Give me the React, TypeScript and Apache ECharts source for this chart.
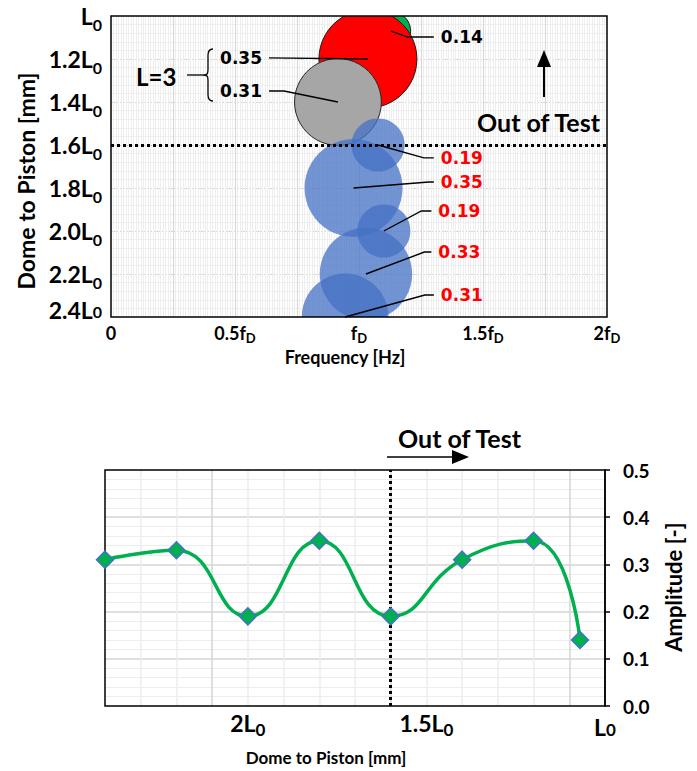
import React, { useEffect, useRef } from "react";
import * as echarts from "echarts";

// ---- data ----
const distances = [1.07, 1.2, 1.4, 1.6, 1.8, 2.0, 2.2, 2.4]; // Dome to Piston (x L0)
const frequencies = [1.129, 1.036, 0.915, 1.077, 0.978, 1.1, 1.028, 0.944]; // x fD
const amplitudes = [0.14, 0.35, 0.31, 0.19, 0.35, 0.19, 0.33, 0.31];
const bubbleKinds = ["out", "L3a", "L3b", "test", "test", "test", "test", "test"];

const freqTickValues = [0, 0.5, 1, 1.5, 2];
const freqTickLabels = ["0", "0.5f", "f", "1.5f", "2f"];
const distTickValues = [1, 1.2, 1.4, 1.6, 1.8, 2.0, 2.2, 2.4];
const distTickLabels = ["L", "1.2L", "1.4L", "1.6L", "1.8L", "2.0L", "2.2L", "2.4L"];
const bottomTickValues = [2, 1.5, 1];
const bottomTickLabels = ["2L", "1.5L", "L"];
const outOfTestLimit = 1.6;

// ---- annotation layout (label anchors in data units, leader elbow in px) ----
const labelAnchorX = [1.33, 0.609, 0.609, 1.33, 1.33, 1.32, 1.32, 1.33];
const labelAnchorY = [1.098, 1.195, 1.349, 1.66, 1.772, 1.907, 2.098, 2.298];
const labelSide = ["right", "left", "left", "right", "right", "right", "right", "right"];
const labelElbow = [26, 0, 15, 10, 5, 10, 7, 9];

const R_PER_AMP = 140;
const FONT = "Lato";
const NUM_FONT = "DejaVu Sans";

const BUBBLE_STYLE: Record<string, any> = {
  out: { fill: "#00B050", stroke: "#1a1a1a", lineWidth: 1 },
  L3a: { fill: "#FF0000", stroke: "#1a1a1a", lineWidth: 1 },
  L3b: { fill: "#A6A6A6", stroke: "#262626", lineWidth: 1 },
  test: { fill: "rgba(68,114,196,0.75)", stroke: "none", lineWidth: 0 },
};

const BRACE_D =
  "M10,0 C6,0 5,2 5,6 L5,20 C5,24 4,25 0,25 C4,25 5,26 5,30 L5,44 C5,48 6,50 10,50";
echarts.graphic.registerShape("brace", echarts.graphic.extendPath(BRACE_D, {}) as any);

const near = (a: number, b: number) => Math.abs(a - b) < 1e-6;

// rich styles: main text + subscript shifted down by `offset` px
const subRich = (main: number, sub: number, offset: number) => {
  const L = 2 * offset + sub;
  const base = { fontWeight: "bold", fontFamily: FONT, color: "#000" };
  return {
    m: { ...base, fontSize: main, lineHeight: L, verticalAlign: "middle" },
    s: { ...base, fontSize: sub, lineHeight: sub, verticalAlign: "bottom" },
    lo: { ...base, fontSize: main, lineHeight: L, verticalAlign: "middle", padding: [8, 0, 0, 0] },
    ls: { ...base, fontSize: sub, lineHeight: sub, verticalAlign: "bottom" },
    hi: { ...base, fontSize: main, lineHeight: L, verticalAlign: "middle", padding: [0, 0, 14, 0] },
    hs: { ...base, fontSize: sub, lineHeight: sub, verticalAlign: "bottom", padding: [0, 0, 14, 0] },
  };
};

export default function App() {
  const ref = useRef<HTMLDivElement>(null);
  useEffect(() => {
    if (!ref.current) return;
    const chart = echarts.init(ref.current, undefined, { renderer: "svg" });

    const txt = (x: number, y: number, text: string, size: number, extra: any = {}) => ({
      type: "text", x, y, z: 50, ...extra,
      style: { text, fill: "#000", fontSize: size, fontWeight: "bold", fontFamily: FONT, align: extra.align || "left", verticalAlign: "middle" },
    });

    const option: any = {
      animation: false,
      textStyle: { fontFamily: FONT },
      grid: [
        { left: 111, top: 16, width: 496, height: 301, show: true, borderColor: "#000", borderWidth: 1.5, backgroundColor: "transparent", z: 3 },
        { left: 105, top: 470, width: 500, height: 236, show: true, borderColor: "#000", borderWidth: 1.5, backgroundColor: "transparent", z: 3 },
      ],
      xAxis: [
        {
          gridIndex: 0, type: "value", min: 0, max: 2, interval: 0.25,
          axisLine: { show: false }, axisTick: { show: false },
          axisLabel: {
            margin: 4, showMinLabel: true, showMaxLabel: true,
            formatter: (v: number) => {
              const i = freqTickValues.findIndex((t) => near(t, v));
              if (i < 0) return "";
              return i === 0 ? `{m|${freqTickLabels[i]}}` : `{m|${freqTickLabels[i]}}{s|D}`;
            },
            rich: subRich(18, 13, 5),
          },
          splitLine: { show: true, showMinLine: false, showMaxLine: false, lineStyle: { color: "#d9d9d9", width: 1.2 } },
          minorTick: { show: false, splitNumber: 25 },
          minorSplitLine: { show: true, lineStyle: { color: "#eeeeee", width: 1 } },
        },
        {
          gridIndex: 1, type: "value", min: 1, max: 2.4, inverse: true, interval: 0.1,
          axisLine: { show: false }, axisTick: { show: false },
          axisLabel: {
            margin: 1, showMinLabel: true, showMaxLabel: true,
            formatter: (v: number) => {
              const i = bottomTickValues.findIndex((t) => near(t, v));
              if (i < 0) return "";
              return near(v, 1) ? `{lo|${bottomTickLabels[i]}}{ls|0}` : `{m|${bottomTickLabels[i]}}{s|0}`;
            },
            rich: subRich(23, 17, 7),
          },
          splitLine: {
            show: true, showMinLine: false, showMaxLine: false,
            lineStyle: { color: ["#d4d4d4", "#ededed", "#ededed", "#ededed", "#ededed"], width: 1.5 },
          },
        },
      ],
      yAxis: [
        {
          gridIndex: 0, type: "value", min: 1, max: 2.4, inverse: true, interval: 0.2,
          axisLine: { show: false }, axisTick: { show: false },
          axisLabel: {
            margin: 9, showMinLabel: true, showMaxLabel: true,
            formatter: (v: number) => {
              const i = distTickValues.findIndex((t) => near(t, v));
              if (i < 0) return "";
              return near(v, 2.4) ? `{hi|${distTickLabels[i]}}{hs|0}` : `{m|${distTickLabels[i]}}{s|0}`;
            },
            rich: subRich(23, 16, 8),
          },
          splitLine: { show: true, showMinLine: false, showMaxLine: false, lineStyle: { color: "#d4d4d4", width: 1.2, type: [2, 1] } },
          minorTick: { show: false, splitNumber: 5 },
          minorSplitLine: { show: true, lineStyle: { color: "#eeeeee", width: 1 } },
        },
        {
          gridIndex: 1, type: "value", position: "right", min: 0, max: 0.5, interval: 0.1,
          axisLine: { show: true, lineStyle: { color: "#000", width: 1.5 } },
          axisTick: { show: true, inside: false, length: 5, lineStyle: { color: "#000", width: 1.5 } },
          axisLabel: { margin: 18, color: "#000", fontSize: 19, fontWeight: "bold", fontFamily: FONT, formatter: (v: number) => v.toFixed(1) },
          splitLine: { show: true, showMinLine: false, showMaxLine: false, lineStyle: { color: "#d4d4d4", width: 1.5 } },
          minorTick: { show: false, splitNumber: 5 },
          minorSplitLine: { show: true, lineStyle: { color: "#ededed", width: 1 } },
        },
      ],
      series: [
        {
          type: "custom", name: "bubbles", xAxisIndex: 0, yAxisIndex: 0, clip: true, z: 2,
          data: distances.map((d, i) => [frequencies[i], d, amplitudes[i], i]),
          renderItem: (params: any, api: any) => {
            const i = api.value(3);
            const c = api.coord([api.value(0), api.value(1)]);
            return {
              type: "circle",
              shape: { cx: c[0], cy: c[1], r: api.value(2) * R_PER_AMP },
              style: { ...BUBBLE_STYLE[bubbleKinds[i]] },
            };
          },
        },
        {
          type: "custom", name: "labels", xAxisIndex: 0, yAxisIndex: 0, clip: false, z: 6,
          data: distances.map((d, i) => [frequencies[i], d, amplitudes[i], i]),
          renderItem: (params: any, api: any) => {
            const i = api.value(3);
            const c = api.coord([api.value(0), api.value(1)]);
            const a = api.coord([labelAnchorX[i], labelAnchorY[i]]);
            const dir = labelSide[i] === "right" ? 1 : -1;
            const gap = 7;
            const end = [a[0] - dir * gap, a[1]];
            const elbow = [a[0] - dir * (gap + labelElbow[i]), a[1]];
            return {
              type: "group",
              children: [
                { type: "polyline", shape: { points: [c, elbow, end] }, style: { stroke: "#000", lineWidth: 1.4, fill: null } },
                {
                  type: "text", x: a[0], y: a[1],
                  style: {
                    text: amplitudes[i].toFixed(2),
                    fill: bubbleKinds[i] === "test" ? "#FF0000" : "#000",
                    fontSize: 17, fontWeight: "bold", fontFamily: NUM_FONT,
                    align: dir === 1 ? "left" : "right", verticalAlign: "middle",
                  },
                },
              ],
            };
          },
          markLine: {
            silent: true, symbol: ["none", "none"], label: { show: false },
            lineStyle: { color: "#000", width: 3, type: [3, 3] },
            data: [{ yAxis: outOfTestLimit }],
          },
        },
        {
          type: "line", name: "amplitude", xAxisIndex: 1, yAxisIndex: 1, z: 5,
          data: distances.map((d, i) => [d, amplitudes[i]]),
          smooth: 0.5, symbol: "diamond", symbolSize: 17,
          lineStyle: { color: "#00B050", width: 3.5 },
          itemStyle: { color: "#00B050", borderColor: "#4472C4", borderWidth: 1.5 },
          markLine: {
            silent: true, symbol: ["none", "none"], label: { show: false },
            lineStyle: { color: "#000", width: 3, type: [3, 3] },
            data: [{ xAxis: outOfTestLimit }],
          },
        },
      ],
      graphic: [
        txt(26, 181, "Dome to Piston [mm]", 23, { rotation: Math.PI / 2, align: "center" }),
        txt(345, 357, "Frequency [Hz]", 18, { align: "center" }),
        txt(136, 76, "L=3", 24),
        { type: "line", z: 50, shape: { x1: 187, y1: 75, x2: 203, y2: 75 }, style: { stroke: "#000", lineWidth: 1.3 } },
        { type: "brace", z: 50, x: 203, y: 49, scaleX: 1, scaleY: 1.04, style: { stroke: "#000", fill: "none", lineWidth: 1.3 } },
        { type: "line", z: 50, shape: { x1: 544, y1: 97, x2: 544, y2: 65 }, style: { stroke: "#000", lineWidth: 2 } },
        { type: "polygon", z: 50, shape: { points: [[537, 67], [551, 67], [544, 50]] }, style: { fill: "#000" } },
        txt(477, 122, "Out of Test", 25),
        txt(398, 438, "Out of Test", 25),
        { type: "line", z: 50, shape: { x1: 387, y1: 457, x2: 455, y2: 457 }, style: { stroke: "#000", lineWidth: 1.3 } },
        { type: "polygon", z: 50, shape: { points: [[452, 450], [452, 464], [469, 457]] }, style: { fill: "#000" } },
        txt(326, 757, "Dome to Piston [mm]", 17, { align: "center" }),
        txt(673, 587, "Amplitude [-]", 22, { rotation: Math.PI / 2, align: "center" }),
      ],
    };
    chart.setOption(option);
    return () => chart.dispose();
  }, []);
  return <div ref={ref} style={{ position: "absolute", left: 0, top: 0, width: 697, height: 771, background: "#fff" }} />;
}
